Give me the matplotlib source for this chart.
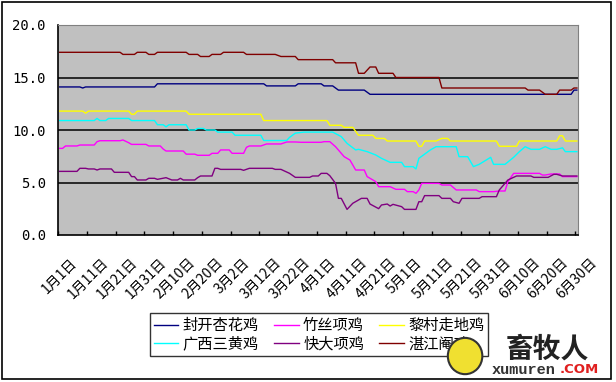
import numpy as np
import matplotlib.pyplot as plt
from matplotlib.patches import Rectangle, Ellipse

plt.rcParams['font.family'] = ['Noto Sans CJK SC', 'DejaVu Sans']

# Category axis: one category per day, 1月1日 .. 6月30日
n_days = 181
tick_days = list(range(0, 181, 10))
tick_labels = ['1月1日', '1月11日', '1月21日', '1月31日', '2月10日', '2月20日',
               '3月2日', '3月12日', '3月22日', '4月1日', '4月11日', '4月21日',
               '5月1日', '5月11日', '5月21日', '5月31日', '6月10日', '6月20日',
               '6月30日']

# Series: (day index, price)
fengkai_days = [0, 7, 8, 9, 33, 34, 71, 72, 82, 83, 91, 92, 95, 97, 106, 108, 178, 179, 180]
fengkai_vals = [14.1, 14.1, 14.0, 14.1, 14.1, 14.4, 14.4, 14.2, 14.2, 14.4, 14.4, 14.2,
                14.2, 13.8, 13.8, 13.4, 13.4, 13.8, 13.8]

zhusi_days = [0, 1, 2, 6, 7, 12, 13, 14, 21, 22, 24, 25, 30, 31, 35, 36, 37, 43, 44, 47,
              48, 52, 53, 55, 56, 59, 60, 64, 65, 66, 70, 72, 77, 79, 82, 84, 91, 92, 94,
              96, 99, 101, 102, 103, 106, 107, 110, 111, 115, 117, 120, 121, 123, 124,
              125, 126, 132, 133, 136, 138, 145, 146, 151, 153, 155, 156, 158, 167, 168,
              169, 171, 174, 175, 180]
zhusi_vals = [8.25, 8.25, 8.48, 8.48, 8.57, 8.57, 8.89, 8.98, 8.98, 9.05, 8.79, 8.63, 8.63,
              8.48, 8.48, 8.19, 8.0, 8.0, 7.7, 7.7, 7.59, 7.59, 7.78, 7.78, 8.1, 8.1, 7.78,
              7.78, 8.35, 8.48, 8.48, 8.67, 8.67, 8.86, 8.86, 8.83, 8.83, 8.89, 8.89, 8.41,
              7.46, 7.14, 6.67, 6.19, 6.19, 5.56, 5.08, 4.6, 4.6, 4.35, 4.35, 4.13, 4.13,
              3.97, 4.29, 4.92, 4.92, 4.76, 4.76, 4.29, 4.29, 4.13, 4.13, 4.19, 4.19, 5.08,
              5.87, 5.87, 5.71, 5.71, 5.81, 5.81, 5.56, 5.56]

licun_days = [0, 8, 9, 10, 24, 25, 26, 27, 44, 45, 70, 71, 93, 94, 98, 99, 102, 104, 109,
              110, 113, 114, 124, 125, 126, 127, 131, 133, 135, 136, 152, 153, 159, 160,
              173, 174, 175, 176, 180]
licun_vals = [11.8, 11.8, 11.6, 11.8, 11.8, 11.5, 11.5, 11.8, 11.8, 11.5, 11.5, 10.9, 10.9,
              10.45, 10.45, 10.25, 10.25, 9.5, 9.5, 9.2, 9.2, 8.95, 8.95, 8.45, 8.45, 8.95,
              8.95, 9.2, 9.2, 8.95, 8.95, 8.45, 8.45, 8.95, 8.95, 9.45, 9.45, 8.95, 8.95]

guangxi_days = [0, 12, 13, 14, 16, 17, 24, 25, 33, 34, 36, 37, 38, 44, 45, 47, 48, 50, 51,
                54, 55, 60, 61, 70, 71, 79, 80, 82, 85, 95, 98, 100, 103, 104, 107, 110,
                112, 115, 119, 120, 123, 124, 125, 129, 131, 138, 139, 142, 144, 146, 150,
                151, 155, 158, 160, 162, 164, 167, 169, 171, 173, 175, 176, 180]
guangxi_vals = [10.9, 10.9, 11.1, 10.9, 10.9, 11.1, 11.1, 10.9, 10.9, 10.5, 10.5, 10.3,
                10.5, 10.5, 10.0, 10.0, 10.15, 10.15, 10.0, 10.0, 9.8, 9.8, 9.5, 9.5, 9.0,
                9.0, 9.3, 9.7, 9.8, 9.8, 9.37, 8.73, 8.1, 8.16, 7.94, 7.62, 7.3, 6.92, 6.92,
                6.51, 6.51, 6.29, 7.3, 8.1, 8.41, 8.41, 7.46, 7.46, 6.51, 6.73, 7.4, 6.73,
                6.73, 7.4, 7.94, 8.41, 8.16, 8.16, 8.41, 8.16, 8.16, 8.3, 7.94, 7.94]

kuaida_days = [0, 6, 7, 9, 10, 12, 13, 14, 18, 19, 24, 25, 26, 27, 30, 31, 33, 34, 37, 39,
               41, 42, 43, 47, 48, 49, 53, 54, 55, 56, 63, 64, 66, 74, 75, 77, 80, 82, 87,
               88, 90, 91, 93, 94, 96, 97, 98, 100, 102, 105, 107, 108, 111, 112, 114, 115,
               116, 119, 120, 124, 125, 126, 127, 132, 133, 136, 137, 139, 140, 146, 147,
               152, 153, 156, 159, 164, 165, 170, 172, 173, 175, 180]
kuaida_vals = [6.06, 6.06, 6.35, 6.35, 6.29, 6.29, 6.19, 6.29, 6.29, 5.97, 5.97, 5.56,
               5.56, 5.24, 5.24, 5.4, 5.4, 5.3, 5.46, 5.24, 5.24, 5.4, 5.24, 5.24, 5.46,
               5.62, 5.62, 6.35, 6.35, 6.25, 6.25, 6.16, 6.35, 6.35, 6.25, 6.25, 5.87, 5.49,
               5.49, 5.62, 5.62, 5.87, 5.87, 5.65, 4.92, 3.49, 3.49, 2.44, 3.02, 3.49, 3.49,
               2.95, 2.51, 2.86, 2.95, 2.76, 2.92, 2.70, 2.44, 2.44, 3.17, 3.17, 3.75, 3.75,
               3.49, 3.49, 3.17, 3.02, 3.49, 3.49, 3.65, 3.65, 4.29, 5.24, 5.62, 5.62, 5.49,
               5.49, 5.78, 5.78, 5.62, 5.62]

zhanjiang_days = [0, 21, 22, 26, 27, 30, 31, 33, 34, 44, 45, 48, 49, 52, 53, 56, 57, 64,
                  65, 75, 77, 82, 83, 95, 96, 103, 104, 106, 108, 110, 111, 116, 117, 132,
                  133, 162, 163, 167, 169, 173, 174, 178, 179, 180]
zhanjiang_vals = [17.4, 17.4, 17.2, 17.2, 17.4, 17.4, 17.2, 17.2, 17.4, 17.4, 17.2, 17.2,
                  17.0, 17.0, 17.2, 17.2, 17.4, 17.4, 17.2, 17.2, 17.0, 17.0, 16.7, 16.7,
                  16.4, 16.4, 15.4, 15.4, 16.0, 16.0, 15.4, 15.4, 15.0, 15.0, 14.0, 14.0,
                  13.8, 13.8, 13.4, 13.4, 13.8, 13.8, 14.0, 14.0]

names = ['封开杏花鸡', '竹丝项鸡', '黎村走地鸡', '广西三黄鸡', '快大项鸡', '湛江阉鸡']
colors = ['#000080', '#FF00FF', '#FFFF00', '#00FFFF', '#800080', '#800000']
all_days = [fengkai_days, zhusi_days, licun_days, guangxi_days, kuaida_days, zhanjiang_days]
all_vals = [fengkai_vals, zhusi_vals, licun_vals, guangxi_vals, kuaida_vals, zhanjiang_vals]

fig = plt.figure(figsize=(6.16, 3.82), dpi=100)
ax = fig.add_axes([58.3 / 616, 1 - 235 / 382, 520 / 616, 210 / 382])
ax.set_facecolor('#C0C0C0')

for y in [5, 10, 15]:
    ax.axhline(y, color='black', lw=1.1, zorder=1)

lines = []
for d, v, name, c in zip(all_days, all_vals, names, colors):
    ln, = ax.plot(d, v, color=c, lw=1.0, label=name, zorder=2)
    lines.append(ln)

ax.set_xlim(-0.5, n_days - 0.5)
ax.set_ylim(0, 20)

ax.set_xticks(tick_days)
ax.set_xticklabels(tick_labels, rotation=45, ha='center', va='top', fontsize=10)
ax.tick_params(axis='x', which='major', length=0, pad=15)
ax.set_xticks(np.arange(-0.5, n_days, 10), minor=True)
ax.tick_params(axis='x', which='minor', direction='in', length=3, width=1, color='black')

ax.set_yticks([0, 5, 10, 15, 20])
ax.set_yticklabels(['%.1f' % t for t in [0, 5, 10, 15, 20]], family='DejaVu Sans Mono', fontsize=10)
ax.tick_params(axis='y', length=0, pad=9)

ax.spines['left'].set_color('black')
ax.spines['bottom'].set_color('black')
ax.spines['left'].set_linewidth(1.2)
ax.spines['bottom'].set_linewidth(1.2)
ax.spines['top'].set_color('#808080')
ax.spines['right'].set_color('#808080')

# legend is filled column by column, reorder so rows read like the picture
order = [0, 3, 1, 4, 2, 5]
leg = ax.legend([lines[i] for i in order], [names[i] for i in order], ncol=3,
                loc='center', bbox_to_anchor=(0.518, 0.1236), bbox_transform=fig.transFigure,
                fontsize=11, frameon=True, fancybox=False, handlelength=1.6,
                handletextpad=0.3, columnspacing=1.0, labelspacing=0.1, borderpad=0.25,
                borderaxespad=0)
leg.get_frame().set_edgecolor('black')
leg.get_frame().set_linewidth(1.0)

# watermark
fig.add_artist(Ellipse((0.755, 0.068), 0.056, 0.095, transform=fig.transFigure,
                       facecolor='#F0E030', edgecolor='#333333', lw=1.5, zorder=5))
fig.text(0.889, 0.085, '畜牧人', fontsize=20, weight='bold', color='#222222',
         ha='center', va='center', zorder=6)
fig.text(0.902, 0.032, 'xumuren', family='Liberation Mono', weight='bold', fontsize=11,
         color='#333333', ha='right', va='center', zorder=6)
fig.text(0.908, 0.032, '.COM', family='DejaVu Sans', weight='bold', fontsize=9.5,
         color='#E02020', ha='left', va='center', zorder=6)

# outer chart border
fig.add_artist(Rectangle((1.5 / 616, 1 - 379 / 382), 609 / 616, 377.5 / 382,
                         transform=fig.transFigure, fill=False, edgecolor='black', lw=1.2))

fig.savefig('out.png', dpi=100)
